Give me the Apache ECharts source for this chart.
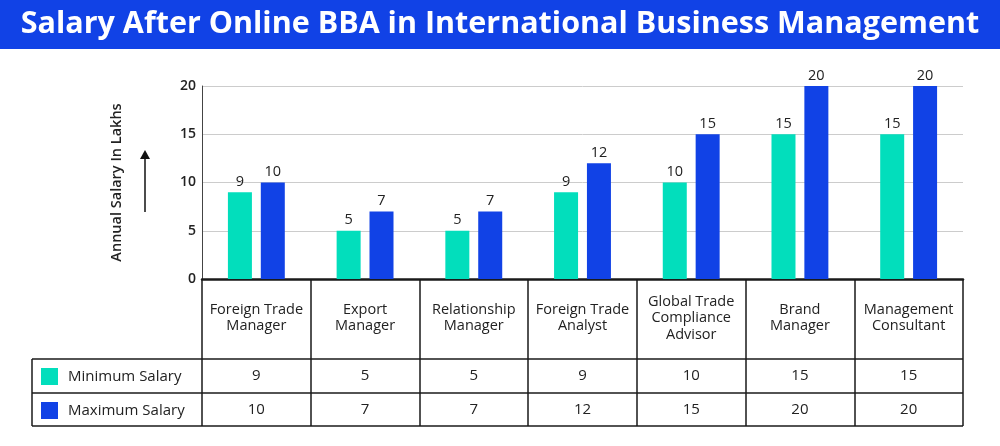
<!DOCTYPE html>
<html><head><meta charset="utf-8">
<script src="https://cdn.jsdelivr.net/npm/echarts@6/dist/echarts.min.js"></script>
<style>html,body{margin:0;padding:0;background:#fff}#c{width:1000px;height:446px}</style>
</head><body><div id="c"></div>
<script>
const titleText = 'Salary After Online BBA in International Business Management';
const categories = ['Foreign Trade\nManager','Export\nManager','Relationship\nManager','Foreign Trade\nAnalyst','Global Trade\nCompliance\nAdvisor','Brand\nManager','Management\nConsultant'];
const minSalary = [9,5,5,9,10,15,15];
const maxSalary = [10,7,7,12,15,20,20];
const seriesNames = ['Minimum Salary','Maximum Salary'];
const yTicks = {min:0,max:20,interval:5};
const yName = 'Annual Salary In Lakhs';

const FONT = '"Open Sans", sans-serif';
const TEAL = '#02DEBC', BLUE = '#1142E6', LINE = '#1a1a1a';
const chart = echarts.init(document.getElementById('c'), null, {renderer:'canvas'});

const gridL = 202, gridR = 963, gridT = 86, gridB = 279;
const tblBottom = 426, row1 = 359, row2 = 393, tblLeft = 32;

const option = {
  animation:false,
  textStyle:{fontFamily:FONT},
  title:{text:titleText,left:'center',top:4,textStyle:{color:'#fff',fontSize:30.5,fontWeight:700,fontFamily:FONT}},
  legend:{orient:'vertical',left:36,top:363,itemWidth:17,itemHeight:17,itemGap:17,icon:'rect',
    textStyle:{fontSize:15,color:'#222',fontFamily:FONT,padding:[0,0,0,5]},data:seriesNames},
  grid:{left:gridL,right:1000-gridR,top:gridT,bottom:446-gridB,containLabel:false},
  xAxis:{type:'category',data:categories,
    axisLine:{lineStyle:{color:LINE,width:2.5}},
    axisTick:{show:true,length:tblBottom-gridB,lineStyle:{color:LINE,width:1.5}},
    axisLabel:{interval:0,margin:39,verticalAlign:'middle',fontSize:14.5,lineHeight:16.5,color:'#222',fontFamily:FONT,align:'center'}},
  yAxis:{type:'value',min:yTicks.min,max:yTicks.max,interval:yTicks.interval,
    name:yName,nameLocation:'middle',nameGap:78,nameRotate:90,
    nameTextStyle:{fontSize:14.5,fontWeight:600,color:'#222',fontFamily:FONT},
    axisLine:{show:true,lineStyle:{color:'#444',width:1}},
    axisTick:{show:false},
    axisLabel:{margin:6,fontSize:14,fontWeight:600,color:'#222',fontFamily:FONT},
    splitLine:{lineStyle:{color:'#cccccc',width:1}}},
  series:[
    {name:seriesNames[0],type:'bar',data:minSalary,barWidth:24,barGap:'37%',itemStyle:{color:TEAL},
     label:{show:true,position:'top',distance:3,fontSize:14.5,color:'#222',fontFamily:FONT}},
    {name:seriesNames[1],type:'bar',data:maxSalary,barWidth:24,itemStyle:{color:BLUE},
     label:{show:true,position:'top',distance:3,fontSize:14.5,color:'#222',fontFamily:FONT}}
  ]
};
chart.setOption(option);

const g = [];
g.push({type:'rect',z:-1,shape:{x:0,y:0,width:1000,height:49},style:{fill:BLUE}});
// arrow
g.push({type:'line',shape:{x1:145,y1:212,x2:145,y2:157},style:{stroke:'#111',lineWidth:1.5}});
g.push({type:'polygon',shape:{points:[[145,150],[140,159],[150,159]]},style:{fill:'#111'}});
// table lines
[row1,row2,tblBottom].forEach(y=>g.push({type:'line',shape:{x1:tblLeft,y1:y,x2:gridR,y2:y},style:{stroke:LINE,lineWidth:1.5}}));
g.push({type:'line',shape:{x1:tblLeft,y1:row1,x2:tblLeft,y2:tblBottom},style:{stroke:LINE,lineWidth:1.5}});
// table values
[minSalary,maxSalary].forEach((arr,r)=>{
  const cy = r===0 ? (row1+row2)/2 : (row2+tblBottom)/2;
  arr.forEach((v,i)=>{
    const x = chart.convertToPixel({xAxisIndex:0}, i);
    g.push({type:'text',x:x,y:cy,style:{text:String(v),fontSize:15,fill:'#222',fontFamily:FONT,align:'center',verticalAlign:'middle'}});
  });
});
chart.setOption({graphic:g});
</script></body></html>
